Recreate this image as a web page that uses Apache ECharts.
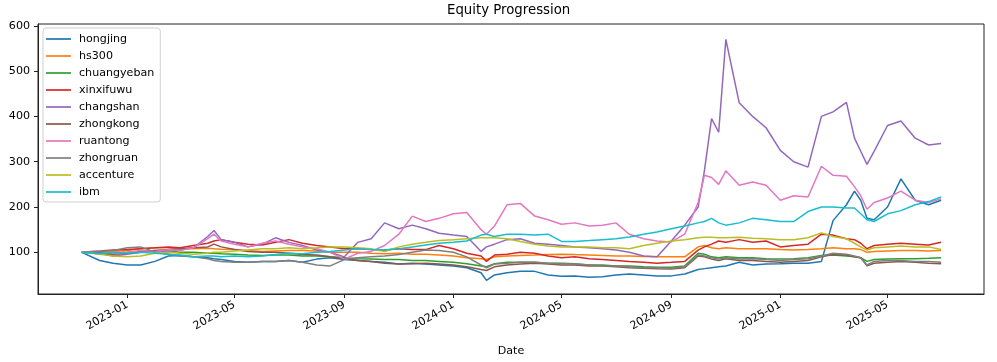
<!DOCTYPE html>
<html>
<head>
<meta charset="utf-8">
<script src="https://cdn.jsdelivr.net/npm/echarts@6/dist/echarts.min.js"></script>
<style>
html,body{margin:0;padding:0;background:#fff;}
#chart{width:997px;height:362px;}
</style>
</head>
<body>
<div id="chart"></div>
<script>
const dates = ['2022-11-11','2022-12-01','2022-12-16','2023-01-01','2023-01-16','2023-02-01','2023-02-16','2023-03-01','2023-03-16','2023-04-01','2023-04-08','2023-04-16','2023-05-01','2023-05-16','2023-06-01','2023-06-16','2023-07-01','2023-07-16','2023-08-01','2023-08-16','2023-09-01','2023-09-16','2023-10-01','2023-10-16','2023-11-01','2023-11-16','2023-12-01','2023-12-16','2024-01-01','2024-01-16','2024-02-01','2024-02-07','2024-02-16','2024-03-01','2024-03-16','2024-04-01','2024-04-16','2024-05-01','2024-05-16','2024-06-01','2024-06-16','2024-07-01','2024-07-16','2024-08-01','2024-08-16','2024-09-01','2024-09-16','2024-10-01','2024-10-08','2024-10-16','2024-10-24','2024-11-01','2024-11-16','2024-12-01','2024-12-16','2025-01-01','2025-01-16','2025-02-01','2025-02-16','2025-03-01','2025-03-16','2025-03-25','2025-04-01','2025-04-08','2025-04-16','2025-05-01','2025-05-16','2025-06-01','2025-06-16','2025-06-30'];

const hongjing = [100,82,76,72,72,80,92,93,90,88,86,84,80,78,80,80,82,78,85,88,84,82,80,78,74,76,74,72,70,66,55,38,50,55,58,58,50,47,48,45,46,50,52,50,48,48,52,62,64,66,68,70,78,72,74,75,76,76,80,170,205,235,215,175,172,200,262,215,205,215];
const hs300 = [100,101,102,104,108,110,110,108,108,109,108,107,106,104,102,103,104,104,103,100,100,100,98,97,98,96,96,94,92,88,86,84,90,92,93,94,95,96,95,94,93,92,92,91,90,90,90,112,115,110,108,110,108,108,108,106,105,106,108,110,108,108,106,100,102,103,104,104,103,104];
const chuangyeban = [100,99,98,100,102,104,103,100,100,98,98,97,96,94,93,94,94,92,92,90,88,86,85,84,84,82,82,80,78,75,70,68,75,78,78,78,76,76,75,72,72,70,70,68,67,67,70,98,96,90,88,90,88,88,86,85,86,88,93,94,92,90,88,80,84,85,86,86,87,88];
const xinxifuwu = [100,103,105,106,108,110,112,110,115,120,125,128,122,118,116,122,128,120,115,112,108,108,106,105,108,106,106,115,108,98,92,80,94,96,100,98,92,88,90,86,84,82,80,78,76,78,80,105,112,118,125,122,128,122,125,112,115,118,140,138,130,128,120,108,115,118,120,118,116,122];
const changshan = [100,98,92,96,100,103,102,105,110,135,148,128,122,112,118,132,122,115,105,100,90,122,130,165,152,160,152,142,138,135,102,112,118,128,130,120,118,115,112,110,108,105,100,92,90,125,160,200,280,395,365,570,430,400,375,325,300,288,400,410,431,352,323,294,323,380,390,352,337,340];
const zhongkong = [100,97,96,98,100,104,106,108,110,112,118,112,106,102,100,100,98,95,94,90,86,82,80,76,74,75,76,74,72,68,62,60,68,72,74,76,74,72,72,70,70,68,66,65,64,63,66,92,90,85,82,86,82,82,80,78,80,82,90,95,94,90,88,70,76,78,80,78,76,75];
const ruantong = [100,103,98,100,104,102,106,104,110,130,140,125,118,112,120,125,118,112,108,100,85,98,102,115,140,180,168,175,185,188,150,140,158,205,208,180,172,162,165,158,160,165,140,130,125,123,140,210,270,265,250,280,248,255,248,215,225,222,290,270,268,245,225,195,210,220,235,215,210,218];
const zhongruan = [100,102,104,110,112,100,96,92,90,86,82,80,78,78,80,80,82,78,72,70,84,88,90,92,95,100,105,104,100,90,72,66,74,76,78,78,76,75,74,72,70,70,68,66,66,65,68,94,92,88,85,88,85,86,84,82,84,86,92,98,96,92,88,72,80,82,82,80,80,78];
const accenture = [100,96,92,90,92,98,100,98,96,98,100,100,103,105,108,108,110,108,110,112,112,110,108,102,112,118,122,126,128,130,132,132,132,130,124,118,114,112,112,112,110,110,108,115,120,125,128,132,133,133,132,132,133,131,130,128,128,132,143,135,130,120,112,105,110,112,114,112,112,106];
const ibm = [100,97,100,98,100,98,96,94,90,92,92,90,92,90,92,95,98,97,100,102,105,108,106,105,108,112,116,120,122,125,138,140,135,140,140,138,140,124,124,126,128,130,134,140,145,152,158,165,168,175,165,160,165,175,172,168,168,190,200,200,198,198,185,172,168,185,192,205,212,222];

const xTickLabels = ['2023-01','2023-05','2023-09','2024-01','2024-05','2024-09','2025-01','2025-05'];
const yTickLabels = [100,200,300,400,500,600];

const seriesNames = ['hongjing','hs300','chuangyeban','xinxifuwu','changshan','zhongkong','ruantong','zhongruan','accenture','ibm'];
const seriesValues = [hongjing,hs300,chuangyeban,xinxifuwu,changshan,zhongkong,ruantong,zhongruan,accenture,ibm];
const colors = ['#1f77b4','#ff7f0e','#2ca02c','#d62728','#9467bd','#8c564b','#e377c2','#7f7f7f','#bcbd22','#17becf'];

function ts(s){ const p = s.split('-').map(Number); return Date.UTC(p[0], p[1]-1, p.length>2?p[2]:1); }
const xTickValues = xTickLabels.map(ts);
const labelMap = {};
xTickLabels.forEach((l,i)=>{ labelMap[xTickValues[i]] = l; });

const FONT = 'DejaVu Sans';
const chart = echarts.init(document.getElementById('chart'), null, {renderer:'canvas'});
chart.setOption({
  animation: false,
  backgroundColor: '#fff',
  color: colors,
  title: {
    text: 'Equity Progression', left: 447, top: 4, padding: 0,
    textStyle: {fontFamily: FONT, fontSize: 13.3, fontWeight: 'normal', color: '#000'}
  },
  legend: {
    data: seriesNames, orient: 'vertical', left: 43, top: 28,
    icon: 'rect', itemWidth: 25, itemHeight: 1.7, itemGap: 3,
    padding: [4, 6, 3, 3],
    backgroundColor: 'rgba(255,255,255,0.8)', borderColor: '#d0d0d0', borderWidth: 1, borderRadius: 3,
    textStyle: {fontFamily: FONT, fontSize: 11.1, lineHeight: 14, color: '#000', padding: [0,0,0,3]},
    selectedMode: false
  },
  grid: {left: 38, right: 13, top: 24, bottom: 61, show: true, borderColor: '#222', borderWidth: 1, backgroundColor: 'transparent'},
  xAxis: {
    type: 'value', min: ts('2022-09-23'), max: ts('2025-08-17'),
    name: 'Date', nameLocation: 'middle', nameGap: 52,
    nameTextStyle: {fontFamily: FONT, fontSize: 11.1, color: '#000'},
    axisLine: {show: true, onZero: false, lineStyle: {color: '#222', width: 1}},
    axisTick: {show: true, length: 4, lineStyle: {color: '#222'}, customValues: xTickValues},
    axisLabel: {customValues: xTickValues, rotate: 30, margin: 10, fontFamily: FONT, fontSize: 11.1, color: '#000',
      formatter: function(v){ return labelMap[v] || ''; }},
    splitLine: {show: false}
  },
  yAxis: {
    type: 'value', min: 8, max: 604,
    axisLine: {show: true, onZero: false, lineStyle: {color: '#222', width: 1}},
    axisTick: {show: true, length: 4, lineStyle: {color: '#222'}, customValues: yTickLabels},
    axisLabel: {customValues: yTickLabels, margin: 8, fontFamily: FONT, fontSize: 11.1, color: '#000'},
    splitLine: {show: false}
  },
  series: seriesNames.map((n, k) => ({
    name: n, type: 'line', showSymbol: false, symbol: 'none',
    lineStyle: {width: 1.5, color: colors[k]}, itemStyle: {color: colors[k]},
    emphasis: {disabled: true},
    data: dates.map((d, i) => [ts(d), seriesValues[k][i]])
  }))
});
</script>
</body>
</html>
